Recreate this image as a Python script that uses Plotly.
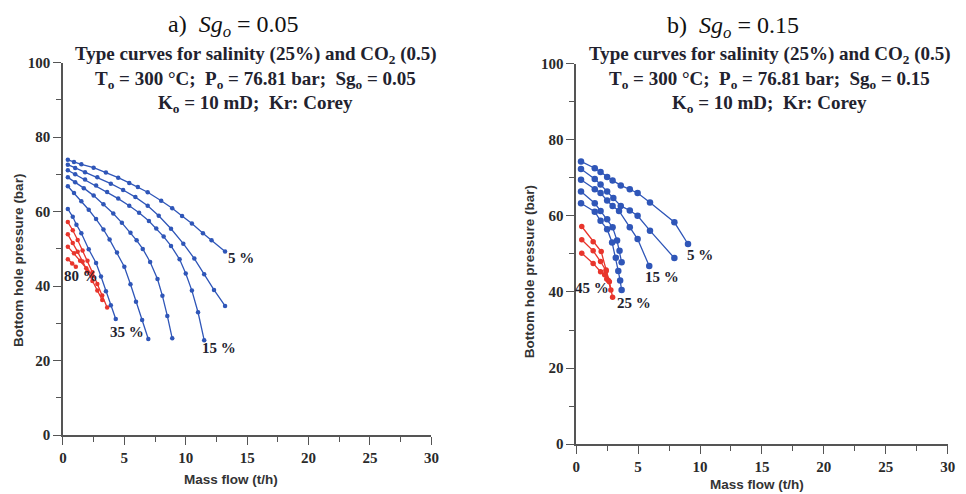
import plotly.graph_objects as go

# ---------------- data: left panel (Sg_o = 0.05) ----------------
a_blue_x = [
    [0.4, 0.9, 1.5, 2.5, 3.5, 4.5, 5.4, 6.1, 6.9, 8.0, 8.9, 9.7, 10.5, 11.4, 12.1, 13.2],
    [0.4, 1.0, 1.8, 2.8, 3.9, 4.9, 5.9, 6.9, 7.8, 8.8, 9.8, 10.7, 11.5, 12.3, 13.2],
    [0.4, 1.0, 1.8, 2.7, 3.6, 4.5, 5.4, 6.2, 7.0, 7.6, 8.2, 8.8, 9.5, 10.0, 10.5, 11.0, 11.5],
    [0.4, 1.0, 1.7, 2.5, 3.3, 4.1, 4.8, 5.5, 6.0, 6.5, 7.1, 7.7, 8.1, 8.5, 8.9],
    [0.4, 0.9, 1.5, 2.1, 2.7, 3.3, 3.8, 4.4, 5.0, 5.5, 5.95, 6.45, 6.95],
    [0.4, 0.8, 1.1, 1.5, 2.1, 2.7, 3.1, 3.5, 3.9, 4.3],
]
a_blue_y = [
    [73.9, 73.3, 72.7, 71.8, 70.5, 69.1, 67.7, 66.6, 65.2, 62.9, 60.9, 58.8, 56.8, 54.2, 52.3, 49.3],
    [72.6, 71.7, 70.6, 69.2, 67.5, 65.8, 63.9, 61.6, 58.9, 55.4, 51.4, 47.4, 43.2, 39.0, 34.7],
    [71.1, 70.0, 68.6, 67.0, 65.3, 63.5, 61.6, 59.7, 57.5, 55.5, 53.3, 50.8, 47.2, 43.4, 38.8, 33.0, 25.5],
    [69.2, 67.9, 66.3, 64.3, 62.0, 59.5, 57.0, 54.3, 52.3, 50.0, 46.5, 41.9, 37.4, 32.0, 26.0],
    [66.8, 65.0, 62.8, 60.5, 58.0, 55.2, 52.5, 49.0, 45.2, 40.5, 35.8, 30.9, 25.8],
    [60.7, 58.6, 56.5, 54.2, 49.9, 46.2, 42.6, 38.6, 34.9, 31.2],
]
a_red_x = [
    [0.4, 0.8, 1.2, 1.6, 2.0, 2.4, 2.8, 3.2, 3.6],
    [0.4, 0.8, 1.2, 1.6, 2.0, 2.4, 2.8, 3.2],
    [0.4, 0.9, 1.4, 1.9, 2.4],
    [0.4, 0.75, 1.05],
]
a_red_y = [
    [57.2, 55.0, 52.4, 49.6, 46.8, 43.7, 40.6, 37.5, 34.3],
    [53.9, 51.6, 49.2, 46.6, 44.0, 41.4, 38.8, 36.3],
    [50.6, 48.8, 46.8, 44.8, 42.8],
    [47.2, 46.1, 45.2],
]
a_labels = ["5 %", "15 %", "35 %", "80 %"]
a_label_x = [14.5, 12.7, 5.2, 1.5]
a_label_y = [47.5, 23.3, 27.8, 42.6]

# ---------------- data: right panel (Sg_o = 0.15) ----------------
b_blue_x = [
    [0.39, 1.5, 1.97, 2.5, 2.94, 3.6, 4.33, 4.96, 5.96, 7.93, 9.03],
    [0.39, 1.5, 1.97, 2.5, 3.0, 3.6, 4.33, 4.96, 5.96, 7.93],
    [0.39, 1.5, 1.97, 2.5, 2.94, 3.46, 4.33, 4.96, 5.9],
    [0.39, 1.5, 1.97, 2.5, 2.94, 3.3, 3.5, 3.67],
    [0.39, 1.5, 1.97, 2.5, 2.9, 3.2, 3.4, 3.55, 3.67],
]
b_blue_y = [
    [74.3, 72.5, 71.5, 70.2, 69.3, 68.0, 67.0, 66.0, 63.5, 58.3, 52.6],
    [72.3, 69.7, 68.2, 66.4, 64.7, 62.6, 61.4, 60.0, 56.1, 48.9],
    [69.5, 67.0, 66.0, 64.0, 62.6, 61.3, 57.0, 53.9, 46.8],
    [66.4, 63.3, 61.3, 59.1, 57.0, 53.5, 50.8, 47.8],
    [63.3, 61.1, 58.7, 56.5, 53.0, 49.0, 45.5, 43.0, 40.5],
]
b_red_x = [
    [0.45, 1.37, 2.02, 2.42, 2.68, 2.94],
    [0.45, 1.37, 1.97, 2.42, 2.6, 2.8],
    [0.45, 1.37, 1.97, 2.3, 2.47],
]
b_red_y = [
    [57.2, 53.2, 50.6, 45.8, 42.7, 38.6],
    [53.7, 50.8, 48.0, 45.5, 43.0, 40.5],
    [50.2, 47.5, 45.3, 44.5, 43.4],
]
b_labels = ["5 %", "15 %", "25 %", "45 %"]
b_label_x = [10.0, 6.9, 4.65, 1.3]
b_label_y = [49.7, 44.0, 37.0, 41.0]

x_ticks = [0, 5, 10, 15, 20, 25, 30]
y_ticks = [0, 20, 40, 60, 80, 100]

BLUE = "#2f56b8"
RED = "#e8352c"
TXT = "#22222e"
SERIF = "Liberation Serif"
SANS = "Liberation Sans"

# figure canvas and the page-to-picture correction measured on earlier runs
W, H = 966, 494
OX, SX, OY, SY = 11.0, 0.989, 16.5, 0.966


def fx(px):
    return ((px - OX) / SX) / W


def fy(py):
    return 1 - ((py - OY) / SY) / H


fig = go.Figure()


def add_curves(xs, ys, color, msize, xa, ya):
    for x, y in zip(xs, ys):
        fig.add_trace(go.Scatter(
            x=x, y=y, mode="lines+markers", xaxis=xa, yaxis=ya,
            line=dict(color=color, width=1.3),
            marker=dict(color=color, size=msize),
            showlegend=False, hoverinfo="skip"))


add_curves(a_blue_x, a_blue_y, BLUE, 4.5, "x", "y")
add_curves(a_red_x, a_red_y, RED, 4.5, "x", "y")
add_curves(b_blue_x, b_blue_y, BLUE, 6.5, "x2", "y2")
add_curves(b_red_x, b_red_y, RED, 5.5, "x2", "y2")

ann = []
for t, x, y in zip(a_labels, a_label_x, a_label_y):
    ann.append(dict(text="<b>" + t + "</b>", x=x, y=y, xref="x", yref="y", showarrow=False,
                    font=dict(family=SERIF, size=15, color=TXT)))
for t, x, y in zip(b_labels, b_label_x, b_label_y):
    ann.append(dict(text="<b>" + t + "</b>", x=x, y=y, xref="x2", yref="y2", showarrow=False,
                    font=dict(family=SERIF, size=15, color=TXT)))


def paper(xp, yp, text, size, family=SERIF, color="#111", angle=0):
    ann.append(dict(text=text, x=fx(xp), y=fy(yp), xref="paper", yref="paper",
                    showarrow=False, xanchor="center", yanchor="middle",
                    textangle=angle, font=dict(family=family, size=size, color=color)))


# panel titles
paper(233, 26, "a)  <i>Sg</i><sub><i>o</i></sub> = 0.05", 24)
paper(733, 27, "b)  <i>Sg</i><sub><i>o</i></sub> = 0.15", 24)

# chart headers
for cx, sg in [(255, "0.05"), (770, "0.15")]:
    paper(cx, 55, "<b>Type curves for salinity (25%) and CO<sub>2</sub> (0.5)</b>", 19, color=TXT)
    paper(cx, 80, "<b>T<sub>o</sub> = 300 °C;  P<sub>o</sub> = 76.81 bar;  Sg<sub>o</sub> = " + sg + "</b>", 19, color=TXT)
    paper(cx, 104, "<b>K<sub>o</sub> = 10 mD;  Kr: Corey</b>", 19, color=TXT)

# axis titles
paper(230, 479, "<b>Mass flow (t/h)</b>", 13.5, family=SANS, color="#333")
paper(757, 484, "<b>Mass flow (t/h)</b>", 13.5, family=SANS, color="#333")
paper(18, 260, "<b>Bottom hole pressure (bar)</b>", 13.5, family=SANS, color="#333", angle=-90)
paper(530, 272, "<b>Bottom hole pressure (bar)</b>", 13.5, family=SANS, color="#333", angle=-90)

fig.update_layout(annotations=ann)

AX = "#555"
TICKFONT = dict(family=SERIF, size=15, color="#2a2a2a", weight="bold")
common_x = dict(range=[0, 30], tickvals=x_ticks, ticks="outside", ticklen=8, tickwidth=1.4,
                tickcolor=AX, showline=True, linecolor=AX, linewidth=1.6, showgrid=False,
                zeroline=False, minor=dict(ticks="outside", ticklen=5, dtick=2.5, tick0=0,
                                           tickcolor=AX, tickwidth=1.2, showgrid=False),
                tickfont=TICKFONT)
common_y = dict(range=[0, 100], tickvals=y_ticks, ticks="outside", ticklen=8, tickwidth=1.4,
                tickcolor=AX, showline=True, linecolor=AX, linewidth=1.6, showgrid=False,
                zeroline=False, minor=dict(ticks="outside", ticklen=5, dtick=10, tick0=0,
                                           tickcolor=AX, tickwidth=1.2, showgrid=False),
                tickfont=TICKFONT)

fig.update_layout(
    width=W, height=H,
    margin=dict(l=0, r=0, t=0, b=0),
    paper_bgcolor="white", plot_bgcolor="white",
    xaxis=dict(common_x, domain=[fx(62), fx(431)], anchor="y"),
    yaxis=dict(common_y, domain=[fy(435), fy(63)], anchor="x"),
    xaxis2=dict(common_x, domain=[fx(576), fx(948)], anchor="y2"),
    yaxis2=dict(common_y, domain=[fy(444), fy(64)], anchor="x2"),
)

fig.write_html("out.html")
